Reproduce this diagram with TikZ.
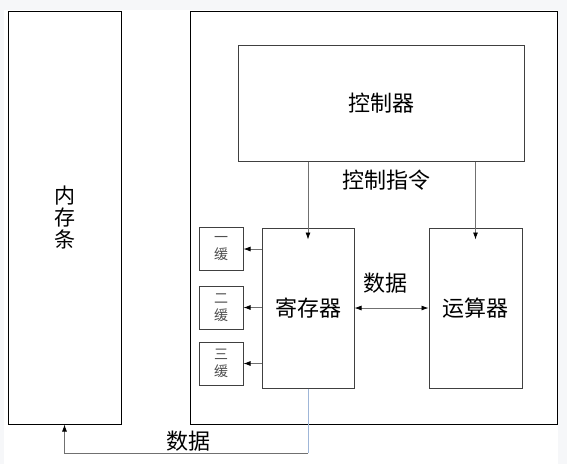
\documentclass[tikz,border=0pt]{standalone}
\usepackage{fontspec}
\setmainfont{Noto Sans CJK SC}
\usetikzlibrary{arrows.meta}
\definecolor{boxline}{HTML}{404040}
\definecolor{wireline}{HTML}{707070}
\definecolor{busblue}{HTML}{9FB6D8}
\definecolor{pagegray}{HTML}{F6F7F9}
\definecolor{smalltext}{HTML}{505050}

\begin{document}
\begin{tikzpicture}[
  x=1pt,
  y=-1pt,
  box/.style={draw=boxline,line width=1pt,fill=white,inner sep=0pt,font=\fontsize{22}{24}\selectfont},
  cachebox/.style={box,minimum width=44pt,minimum height=43pt,align=center,text=smalltext,font=\fontsize{14}{17}\selectfont},
  lbl/.style={inner sep=0pt,font=\fontsize{22}{24}\selectfont},
  wire/.style={draw=wireline,line width=0.8pt,-{Latex[length=7pt,width=5pt,color=black]}},
  dwire/.style={draw=wireline,line width=0.8pt,{Latex[length=7pt,width=5pt,color=black]}-{Latex[length=7pt,width=5pt,color=black]}}
]
  \useasboundingbox (0,0) rectangle (567,464);
  \fill[pagegray] (0,0) rectangle (567,464);
  \fill[white] (4,10) rectangle (558,464);

  % Memory stick and processor frame.
  \node[box,draw=black,minimum width=113pt,minimum height=413pt,align=center,
        font=\fontsize{21}{22}\selectfont] (mem) at (64.5,217.5) {内\\存\\条};
  \node[box,draw=black,line width=1pt,minimum width=367pt,minimum height=413pt] (cpu) at (373.5,217.5) {};

  % Units inside the processor.
  \node[box,minimum width=286pt,minimum height=116pt] (ctrl) at (381,103) {控制器};
  \node[box,minimum width=92pt,minimum height=160pt] (reg) at (308,308) {寄存器};
  \node[box,minimum width=93pt,minimum height=160pt] (alu) at (475.5,308) {运算器};

  \node[cachebox] (cacheA) at (221,249) {一\\缓};
  \node[cachebox] (cacheB) at (221,307.5) {二\\缓};
  \node[cachebox] (cacheC) at (221,363.5) {三\\缓};

  \node[lbl] (cmdlbl) at (386.5,180) {控制指令};
  \node[lbl] (datalbl) at (385,283) {数据};

  % Control lines and data paths.
  \draw[wire] (ctrl.south -| reg) -- ([yshift=-12pt]reg.north);
  \draw[wire] (ctrl.south -| alu) -- ([yshift=-12pt]alu.north);
  \foreach \c in {cacheA,cacheB,cacheC} {
    \draw[wire] (reg.west |- \c) -- (\c.east);
  }
  \draw[dwire] (reg.east) -- (alu.west);

  % Bus back to memory.
  \coordinate (busturn) at (308,453);
  \draw[busblue,line width=0.8pt] (reg.south) -- (busturn);
  \draw[wire] (busturn) -- (busturn -| mem.south) -- (mem.south);
  \node[lbl] (buslbl) at (188,441) {数据};
\end{tikzpicture}
\end{document}
